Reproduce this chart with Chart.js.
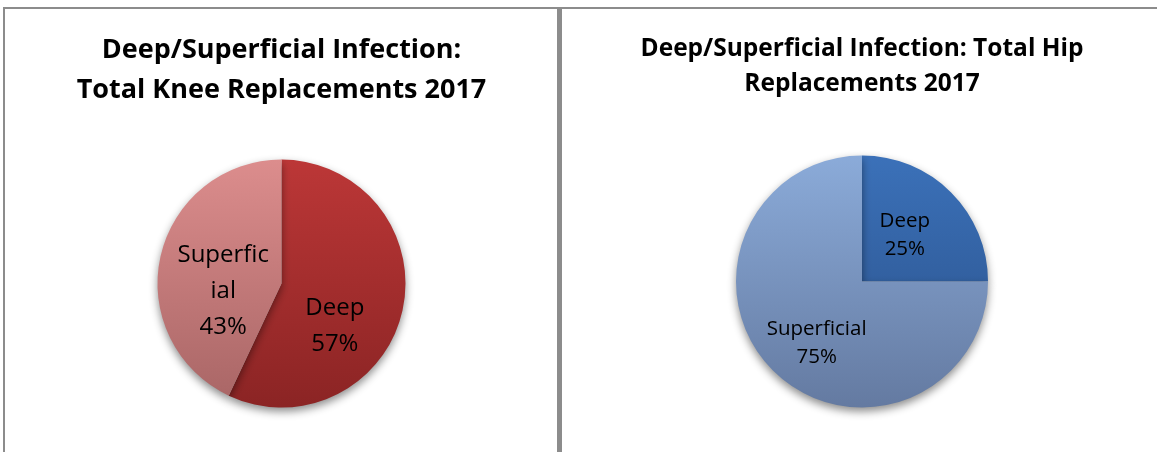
<!DOCTYPE html>
<html>
<head>
<meta charset="utf-8">
<script src="https://cdn.jsdelivr.net/npm/chart.js@4.4.0/dist/chart.umd.min.js"></script>
<style>
  html, body { margin: 0; padding: 0; background: #fff; overflow: hidden; }
  .pannello { position: absolute; top: 7px; height: 460px; border: 2px solid #8c8c8c; border-bottom: none; background: #fff; box-sizing: border-box; }
  #p-ginocchio { left: 3px; width: 556px; }
  #p-anca { left: 559px; width: 610px; border-left-width: 3px; }
  .pannello canvas { position: absolute; left: 0; top: 0; }
</style>
</head>
<body>
<div class="pannello" id="p-ginocchio"><canvas id="kneeChart"></canvas></div>
<div class="pannello" id="p-anca"><canvas id="hipChart"></canvas></div>

<script>
// dati
const categorie = ["Deep", "Superficial"];
const valoriGinocchio = [57, 43];
const valoriAnca = [25, 75];
const etichetteGinocchio = [["Deep", "57%"], ["Superfic", "ial", "43%"]];
const etichetteAnca = [["Deep", "25%"], ["Superficial", "75%"]];

const FONT = "'Open Sans', Lato, sans-serif";

// gradiente verticale sul disco (colore alto, colore basso)
function gradiente(ctx, coppie, r) {
    const area = ctx.chart.chartArea;
    if (!area) return coppie[ctx.dataIndex][0];
    const cy = (area.top + area.bottom) / 2;
    if (!Number.isFinite(cy)) return coppie[ctx.dataIndex][0];
    const g = ctx.chart.ctx.createLinearGradient(0, cy - r, 0, cy + r);
    g.addColorStop(0, coppie[ctx.dataIndex][0]);
    g.addColorStop(1, coppie[ctx.dataIndex][1]);
    return g;
}

const ombra = {
    id: 'ombra',
    beforeDatasetDraw(chart) {
        const c = chart.ctx;
        c.save();
        c.shadowColor = 'rgba(0,0,0,0.45)';
        c.shadowBlur = 9;
        c.shadowOffsetY = 4;
    },
    afterDatasetDraw(chart) { chart.ctx.restore(); }
};

const etichette = {
    id: 'etichette',
    afterDatasetsDraw(chart, args, opts) {
        const c = chart.ctx;
        const meta = chart.getDatasetMeta(0);
        c.save();
        c.fillStyle = '#000';
        c.font = opts.size + 'px ' + FONT;
        c.textAlign = 'center';
        c.textBaseline = 'middle';
        meta.data.forEach((arc, i) => {
            const righe = opts.testi[i];
            const cx = arc.x + opts.spost[i][0] * arc.outerRadius;
            const cy = arc.y + opts.spost[i][1] * arc.outerRadius;
            const y0 = cy - (righe.length - 1) * opts.riga / 2;
            righe.forEach((t, k) => c.fillText(t, cx, y0 + k * opts.riga));
        });
        c.restore();
    }
};

function creaTorta(id, w, h, valori, colori, raggio, titolo, tit, pad, lbl) {
    const cv = document.getElementById(id);
    cv.width = w; cv.height = h;
    cv.style.width = w + 'px'; cv.style.height = h + 'px';
    return new Chart(cv.getContext('2d'), {
        type: 'pie',
        data: {
            labels: categorie,
            datasets: [{
                data: valori,
                radius: raggio,
                backgroundColor: ctx => gradiente(ctx, colori, raggio),
                borderWidth: 0
            }]
        },
        options: {
            responsive: false,
            animation: false,
            layout: { padding: pad },
            plugins: {
                legend: { display: false },
                tooltip: { enabled: false },
                title: {
                    display: true,
                    text: titolo,
                    color: '#000',
                    font: { family: FONT, size: tit.size, weight: 'bold', lineHeight: tit.lh },
                    padding: { top: tit.pt, bottom: tit.pb }
                },
                etichette: lbl
            }
        },
        plugins: [ombra, etichette]
    });
}

creaTorta('kneeChart', 553, 452, valoriGinocchio,
    [['#bc3737', '#8b2424'], ['#dc8d8d', '#a86565']], 124,
    ["Deep/Superficial Infection:", "Total Knee Replacements 2017"],
    { size: 27, lh: 40 / 27, pt: 21, pb: 40 },
    { bottom: 44 },
    { testi: etichetteGinocchio, size: 24, riga: 36, spost: [[0.43, 0.34], [-0.47, 0.06]] });

creaTorta('hipChart', 600, 452, valoriAnca,
    [['#3b71b9', '#294f87'], ['#8babd9', '#647aa1']], 126,
    ["Deep/Superficial Infection: Total Hip", "Replacements 2017"],
    { size: 24.5, lh: 35 / 24.5, pt: 23, pb: 45 },
    { bottom: 45 },
    { testi: etichetteAnca, size: 20.5, riga: 28, spost: [[0.34, -0.37], [-0.36, 0.49]] });
</script>
</body>
</html>
